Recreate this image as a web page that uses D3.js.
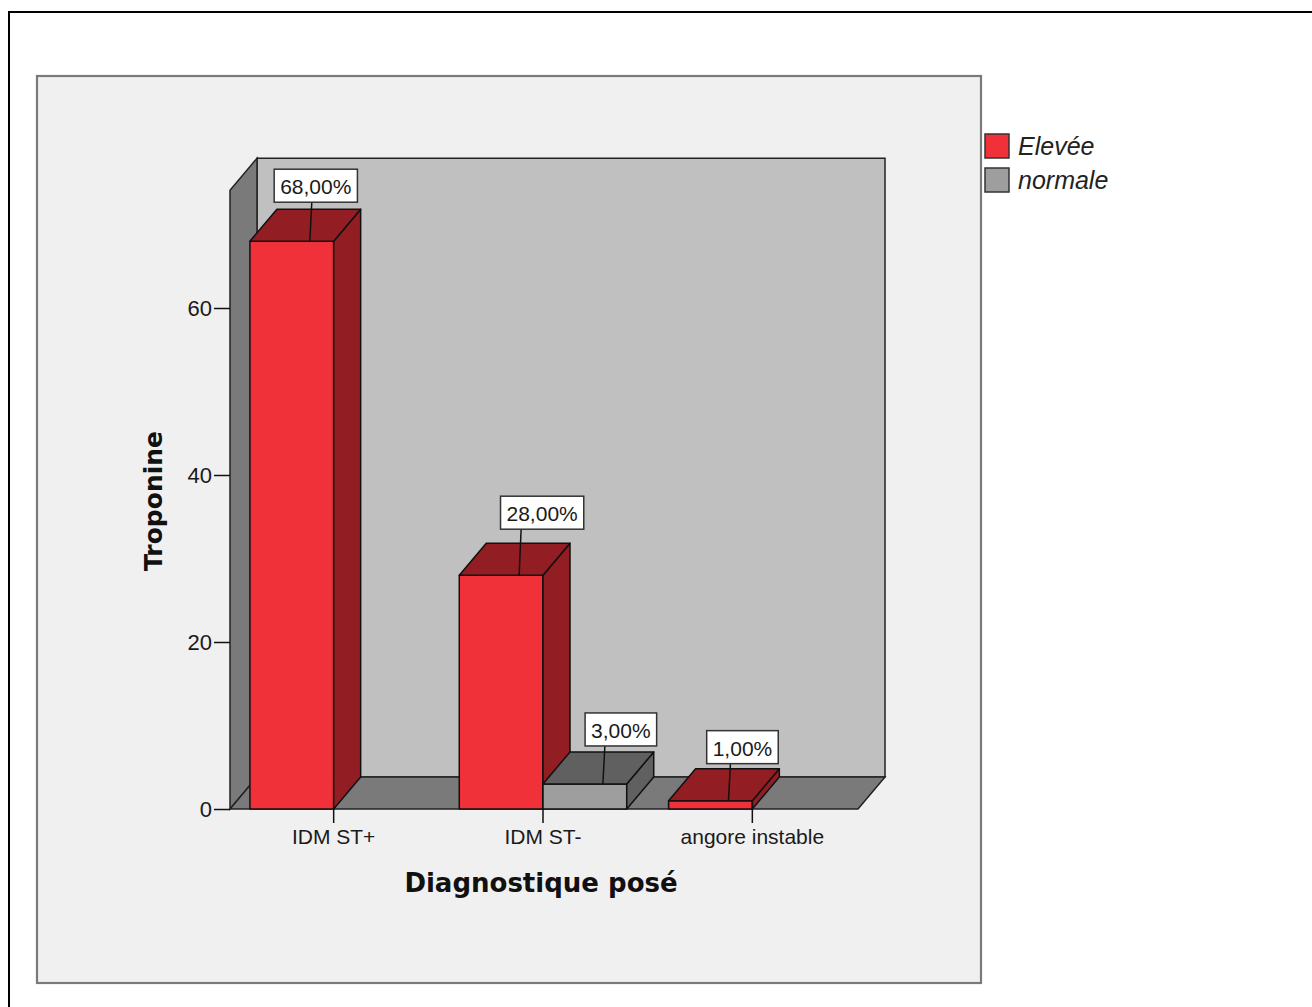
<!DOCTYPE html>
<html>
<head>
<meta charset="utf-8">
<script src="https://cdn.jsdelivr.net/npm/d3@7"></script>
<style>
  html, body { margin: 0; padding: 0; background: #ffffff; }
  svg { display: block; }
</style>
</head>
<body>
<svg id="chart" width="1312" height="1007"></svg>
<script>
// Troponine par diagnostic posé (pourcentages)
const categories = ["IDM ST+", "IDM ST-", "angore instable"];
const series = ["Elevée", "normale"];
const elevee = [68, 28, 1];
const normale = [0, 3, 0];
const yTicks = [0, 20, 40, 60];
const valueLabels = ["68,00%", "28,00%", "3,00%", "1,00%"];

// small nudges of each value box relative to its leader line
const labelShift = [6, 23, 18, 14];
const labelLift = [2, 9, 1, 0];

const colors = {
  Elevée: { front: "#f0313a", dark: "#921d22" },
  normale: { front: "#9e9e9e", dark: "#606060" }
};

const svg = d3.select("#chart");

// outer frame and panel
svg.append("rect").attr("x", 9).attr("y", 12).attr("width", 1320).attr("height", 1010)
  .attr("fill", "#ffffff").attr("stroke", "#000").attr("stroke-width", 2);
svg.append("rect").attr("x", 37).attr("y", 76).attr("width", 944).attr("height", 907)
  .attr("fill", "#f0f0f0").attr("stroke", "#7a7a7a").attr("stroke-width", 2.2);

// 3D geometry
const DX = 27, DY = 32;
const floorY = 809;
const x = d3.scaleBand().domain(categories).range([229, 857]).padding(0);
const y = d3.scaleLinear().domain([0, 74.1]).range([floorY, floorY - 74.1 * (809 - 308) / 60]);
const barW = x.bandwidth() * 0.4;
const xLeft = 230, xRight = 858;
const yTop = y(74.1);

const g = svg.append("g");
const line = d3.line();

// back wall
g.append("path")
  .attr("d", line([[xLeft + DX, floorY - DY], [xRight + DX, floorY - DY], [xRight + DX, yTop - DY], [xLeft + DX, yTop - DY]]) + "Z")
  .attr("fill", "#c0c0c0").attr("stroke", "#222").attr("stroke-width", 1.5);
// left wall
g.append("path")
  .attr("d", line([[xLeft, floorY], [xLeft + DX, floorY - DY], [xLeft + DX, yTop - DY], [xLeft, yTop]]) + "Z")
  .attr("fill", "#7a7a7a").attr("stroke", "#222").attr("stroke-width", 1.5);
// floor
g.append("path")
  .attr("d", line([[xLeft, floorY], [xRight, floorY], [xRight + DX, floorY - DY], [xLeft + DX, floorY - DY]]) + "Z")
  .attr("fill", "#7a7a7a").attr("stroke", "#222").attr("stroke-width", 1.5);

// bars
const bars = [];
categories.forEach((c, ci) => {
  [elevee[ci], normale[ci]].forEach((v, si) => {
    bars.push({ cat: c, s: series[si], v: v, x0: x(c) + x.bandwidth() / 2 + (si - 1) * barW });
  });
});
const drawn = bars.filter(b => b.v > 0);

drawn.forEach(b => {
  const x0 = b.x0, x1 = b.x0 + barW, yt = y(b.v), col = colors[b.s];
  const bg = g.append("g");
  // front
  bg.append("path").attr("d", line([[x0, floorY], [x1, floorY], [x1, yt], [x0, yt]]) + "Z")
    .attr("fill", col.front).attr("stroke", "#111").attr("stroke-width", 1.5).attr("stroke-linejoin", "round");
  // side
  bg.append("path").attr("d", line([[x1, floorY], [x1 + DX, floorY - DY], [x1 + DX, yt - DY], [x1, yt]]) + "Z")
    .attr("fill", col.dark).attr("stroke", "#111").attr("stroke-width", 1.5).attr("stroke-linejoin", "round");
  // top
  bg.append("path").attr("d", line([[x0, yt], [x1, yt], [x1 + DX, yt - DY], [x0 + DX, yt - DY]]) + "Z")
    .attr("fill", col.dark).attr("stroke", "#111").attr("stroke-width", 1.5).attr("stroke-linejoin", "round");
});

// value labels with leader lines
const labelFont = "Liberation Sans, Arial, sans-serif";
drawn.forEach((b, i) => {
  const yt = y(b.v);
  const lx = b.x0 + barW / 2 + 18;
  const boxBottom = yt - DY - 5 - labelLift[i];
  const boxH = 33;
  const cx = lx + labelShift[i];
  const lg = g.append("g");
  lg.append("line").attr("x1", lx).attr("y1", yt).attr("x2", lx + 2).attr("y2", boxBottom)
    .attr("stroke", "#111").attr("stroke-width", 1.5);
  const t = lg.append("text").attr("x", cx).attr("y", boxBottom - 8)
    .attr("text-anchor", "middle").attr("font-family", labelFont).attr("font-size", 21)
    .attr("fill", "#1a1a1a").text(valueLabels[i]);
  const w = t.node().getComputedTextLength() + 12;
  lg.insert("rect", "text").attr("x", cx - w / 2).attr("y", boxBottom - boxH).attr("width", w).attr("height", boxH)
    .attr("fill", "#ffffff").attr("stroke", "#333").attr("stroke-width", 1.5);
});

// y axis ticks
const yAxisG = svg.append("g").attr("transform", `translate(${xLeft},0)`)
  .call(d3.axisLeft(y).tickValues(yTicks).tickSize(16).tickPadding(2).tickFormat(d3.format("d")));
yAxisG.select(".domain").remove();
yAxisG.selectAll(".tick line").attr("stroke", "#111").attr("stroke-width", 1.5);
yAxisG.selectAll(".tick text").attr("font-family", labelFont).attr("font-size", 22).attr("fill", "#1a1a1a");

// x axis ticks
const xAxisG = svg.append("g").attr("transform", `translate(0,${floorY})`)
  .call(d3.axisBottom(x).tickSize(14).tickPadding(6));
xAxisG.select(".domain").remove();
xAxisG.selectAll(".tick line").attr("stroke", "#111").attr("stroke-width", 1.5);
xAxisG.selectAll(".tick text").attr("font-family", labelFont).attr("font-size", 21).attr("fill", "#1a1a1a");

// axis titles
svg.append("text").attr("x", 541).attr("y", 892).attr("text-anchor", "middle")
  .attr("font-family", "DejaVu Sans, Verdana, sans-serif").attr("font-weight", "bold").attr("font-size", 26)
  .attr("fill", "#111").text("Diagnostique posé");
svg.append("text").attr("transform", "translate(162,501) rotate(-90)").attr("text-anchor", "middle")
  .attr("font-family", "DejaVu Sans, Verdana, sans-serif").attr("font-weight", "bold").attr("font-size", 25)
  .attr("fill", "#111").text("Troponine");

// legend
const legend = svg.append("g").attr("transform", "translate(985,134)");
series.forEach((s, i) => {
  const row = legend.append("g").attr("transform", `translate(0,${i * 34})`);
  row.append("rect").attr("x", 0).attr("y", 0).attr("width", 24).attr("height", 24)
    .attr("fill", colors[s].front).attr("stroke", "#333").attr("stroke-width", 1.5);
  row.append("text").attr("x", 33).attr("y", 21).attr("font-family", labelFont)
    .attr("font-style", "italic").attr("font-size", 25).attr("fill", "#222").text(s);
});
</script>
</body>
</html>
